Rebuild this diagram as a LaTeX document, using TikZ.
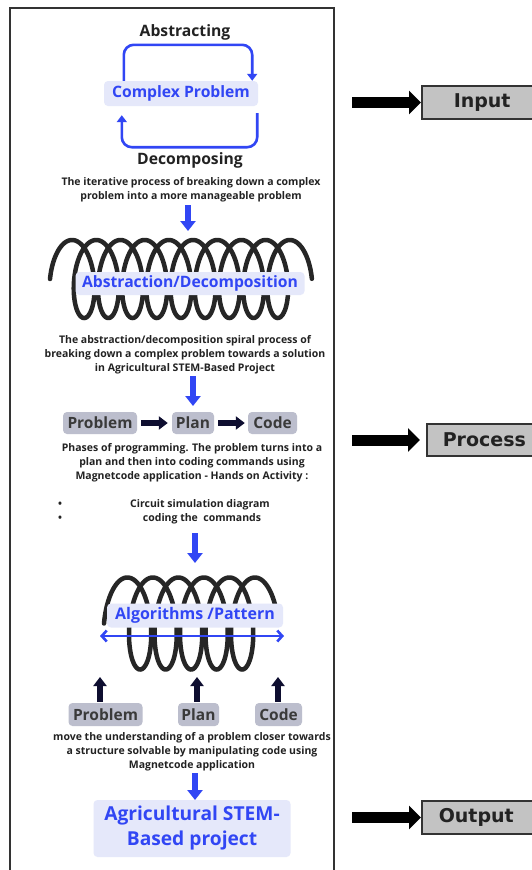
\documentclass[tikz,border=0pt]{standalone}
\usepackage{fontspec}
\setmainfont{Open Sans}
\newfontfamily\sidefont{DejaVu Sans}
\usetikzlibrary{arrows.meta,calc}
\definecolor{cblue}{HTML}{3146F4}
\definecolor{clav}{HTML}{E5E8FA}
\definecolor{cgray}{HTML}{BCBECD}
\definecolor{cgtext}{HTML}{3A3A3A}
\definecolor{cnavy}{HTML}{0E0E30}
\definecolor{cbox}{HTML}{C3C3C3}
\definecolor{cframe}{HTML}{333333}
\definecolor{ctext}{HTML}{222222}
\tikzset{
  desc/.style={font=\bfseries\fontsize{10.5}{14}\selectfont, text=ctext, align=center, inner sep=0pt},
  headtxt/.style={font=\bfseries\fontsize{15.7}{18}\selectfont, text=ctext, inner sep=0pt},
  lab/.style={font=\bfseries\fontsize{15.7}{18}\selectfont, text=cblue, fill=clav, rounded corners=4pt, inner sep=0pt},
  gbox/.style={font=\bfseries\fontsize{15.5}{16}\selectfont, text=cgtext, fill=cgray, rounded corners=4pt, inner sep=0pt},
  barrow/.style={cblue, line width=6pt, -{Triangle[width=15pt,length=10pt]}},
  narrow/.style={cnavy, line width=6pt, -{Triangle[width=13pt,length=9pt]}},
  karrow/.style={black, line width=11pt, -{Triangle[width=23pt,length=12pt]}},
  sidebox/.style={draw=cframe, line width=1.5pt, fill=cbox, inner sep=0pt, anchor=west, font=\sidefont\bfseries\fontsize{19}{22}\selectfont, text=ctext},
  coil/.style={line width=4.5pt, color=black!85, line cap=round},
  loopline/.style={cblue, line width=2.6pt, rounded corners=10pt},
}
\begin{document}
\begin{tikzpicture}[x=1pt,y=-1pt]
\useasboundingbox (0,0) rectangle (532,870);
\clip (0,0) rectangle (532,870);
\fill[white] (0,0) rectangle (532,870);
% frame
\draw[cframe, line width=1.6pt] (10,885) -- (10,8) -- (334,8) -- (334,885);

% ---- top cycle
\node[headtxt] (abs) at (185,32) {Abstracting};
\node[lab, minimum width=154pt, minimum height=25pt] (cp) at (181,93.5) {Complex Problem};
\draw[loopline, -{Triangle[width=10pt,length=7pt]}] ($(cp.north west)+(20,0)$) -- ++(0,-36) -| ($(cp.north east)+(-6,0)$);
\draw[loopline, -{Triangle[width=10pt,length=7pt]}] ($(cp.south east)+(-1,7)$) -- ++(0,34) -| ($(cp.south west)+(18,9)$);
\node[headtxt] (dec) at (190,160) {Decomposing};
\node[desc] (d1) at (191,190) {The iterative process of breaking down a complex\\problem into a more manageable problem};
\coordinate (a1s) at (188,205);
\coordinate (a1e) at (188,231);
\draw[barrow] (a1s) -- (a1e);

% ---- spiral 1
\draw[coil] plot[domain=0:{19*pi}, samples=900] ({66+24.2*\x/(2*pi)-16*cos(\x r)}, {279-39*sin(\x r)});
\node[lab, minimum width=229pt, minimum height=23pt] (adl) at (190,283.5) {Abstraction/Decomposition};
\node[desc] (d2) at (185,355) {The abstraction/decomposition spiral process of\\breaking down a complex problem towards a solution\\in Agricultural STEM-Based Project};
\coordinate (a2s) at (193,376);
\coordinate (a2e) at (193,406);
\draw[barrow] (a2s) -- (a2e);

% ---- phases row
\node[gbox, minimum width=74pt, minimum height=22pt] (p1) at (100,423) {Problem};
\node[gbox, minimum width=42pt, minimum height=22pt] (pl1) at (193,423) {Plan};
\node[gbox, minimum width=49pt, minimum height=22pt] (c1) at (272.5,423) {Code};
\draw[narrow, shorten <=4pt, shorten >=4pt] (p1) -- (pl1);
\draw[narrow, shorten <=4pt, shorten >=3pt] (pl1) -- (c1);
\node[desc] (d3) at (192,463) {Phases of programming. The problem turns into a\\plan and then into coding commands using\\Magnetcode application - Hands on Activity :};
\node[desc] (b1) at (60,505) {\textbullet};
\node[desc] (b2) at (60,518.5) {\textbullet};
\node[desc] (i1) at (200,505) {Circuit simulation diagram};
\node[desc] (i2) at (202,518.5) {coding the~ commands};
\coordinate (a3s) at (195,533);
\coordinate (a3e) at (195,563);
\draw[barrow] (a3s) -- (a3e);

% ---- spiral 2
\draw[coil] plot[domain=0:{11*pi}, samples=700] ({121+25.5*\x/(2*pi)-17*cos(\x r)}, {623.5-46*sin(\x r)});
\node[lab, font=\bfseries\fontsize{16}{18}\selectfont, minimum width=176pt, minimum height=24pt] (alg) at (195,615.5) {Algorithms /Pattern};
\coordinate (dl) at (100,636);
\coordinate (dr) at (284,636);
\draw[cblue, line width=2.6pt, {Straight Barb[length=5pt,width=11pt]}-{Straight Barb[length=5pt,width=11pt]}] (dl) -- (dr);

\node[gbox, minimum width=74pt, minimum height=23pt] (p2) at (105.5,714.5) {Problem};
\node[gbox, minimum width=41pt, minimum height=23pt] (pl2) at (198.5,714.5) {Plan};
\node[gbox, minimum width=47pt, minimum height=23pt] (c2) at (278.5,714.5) {Code};
\coordinate (u1) at (100,677);
\coordinate (u2) at (197,677);
\coordinate (u3) at (278,677);
\draw[narrow] ($(p2.north)+(-5.5,-1)$) -- (u1);
\draw[narrow] ($(pl2.north)+(-1.5,-1)$) -- (u2);
\draw[narrow] ($(c2.north)+(-0.5,-1)$) -- (u3);
\node[desc] (d4) at (192,752) {move the understanding of a problem closer towards\\a structure solvable by manipulating code using\\Magnetcode application};
\coordinate (a4s) at (195,773);
\coordinate (a4e) at (195,800);
\draw[barrow] (a4s) -- (a4e);
\node[lab, font=\bfseries\fontsize{19.2}{25}\selectfont, align=center, minimum width=197pt, minimum height=57pt] (fin) at (192,828.5) {Agricultural STEM-\\Based project};

% ---- right side
\node[sidebox, minimum height=33pt] (inp) at (421,102.5) {\makebox[125pt][l]{\hspace*{32pt}Input}};
\node[sidebox, minimum height=32pt] (proc) at (426,440) {\makebox[125pt][l]{\hspace*{16pt}Process}};
\node[sidebox, minimum height=33pt] (outp) at (421,817.5) {\makebox[125pt][l]{\hspace*{17pt}Output}};
\coordinate (ki) at (352,102.5);
\coordinate (kp) at (352,440);
\coordinate (ko) at (352,817.5);
\draw[karrow] (ki) -- (inp.west);
\draw[karrow] (kp) -- ($(proc.west)+(-6,0)$);
\draw[karrow] (ko) -- (outp.west);
\end{tikzpicture}
\end{document}
